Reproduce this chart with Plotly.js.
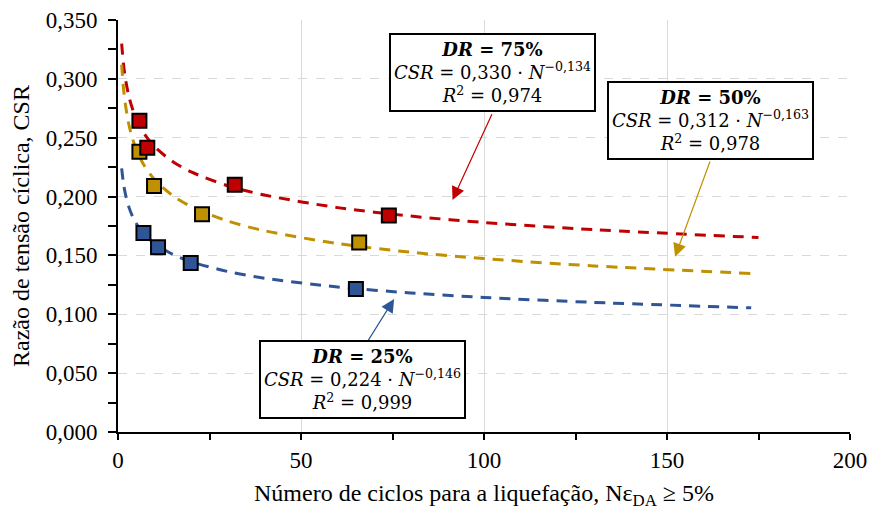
<!DOCTYPE html>
<html>
<head>
<meta charset="utf-8">
<script src="https://cdn.plot.ly/plotly-3.0.1.min.js"></script>
<style>
  html, body { margin: 0; padding: 0; background: #ffffff; }
  #chart { width: 872px; height: 513px; }
</style>
</head>
<body>
<div id="chart"></div>
<script>
// Measured points (N cycles, CSR)
const n75 = [5.85, 8.0, 31.9, 74.0];
const csr75 = [0.2645, 0.2415, 0.210, 0.184];
const n50 = [5.85, 9.85, 22.96, 65.9];
const csr50 = [0.238, 0.209, 0.185, 0.161];
const n25 = [6.95, 10.94, 19.87, 65.0];
const csr25 = [0.169, 0.157, 0.1436, 0.1215];

// Power-law trend lines as drawn
const trendN75 = [1, 1.5, 2, 3, 4, 5, 7, 10, 15, 20, 30, 40, 60, 80, 100, 130, 175];
const trend75 = [0.330, 0.3125, 0.3007, 0.2848, 0.2741, 0.2660, 0.2542, 0.2424, 0.2296, 0.2209, 0.2092, 0.2013, 0.1906, 0.1834, 0.1780, 0.1719, 0.1652];
const trendN = [1, 1.5, 2, 3, 4, 5, 7, 10, 15, 20, 30, 40, 60, 80, 100, 130, 173];
const trend50 = [0.312, 0.2920, 0.2787, 0.2608, 0.2489, 0.2400, 0.2272, 0.2144, 0.2007, 0.1915, 0.1792, 0.1710, 0.1601, 0.1527, 0.1473, 0.1411, 0.1347];
const trend25 = [0.224, 0.2111, 0.2025, 0.1908, 0.1830, 0.1771, 0.1686, 0.1601, 0.1508, 0.1446, 0.1363, 0.1307, 0.1232, 0.1181, 0.1143, 0.1101, 0.1055];

// Annotation texts
const label75 = ['<b><i>DR</i> = 75%</b>', '<i>CSR</i> = 0,330 · <i>N</i><sup>−0,134</sup>', '<i>R</i><sup>2</sup> = 0,974'];
const label50 = ['<b><i>DR</i> = 50%</b>', '<i>CSR</i> = 0,312 · <i>N</i><sup>−0,163</sup>', '<i>R</i><sup>2</sup> = 0,978'];
const label25 = ['<b><i>DR</i> = 25%</b>', '<i>CSR</i> = 0,224 · <i>N</i><sup>−0,146</sup>', '<i>R</i><sup>2</sup> = 0,999'];

const cRed = '#C00000', cGold = '#BF9000', cBlue = '#2F5597';
const serif = 'Liberation Serif';

function trend(x, y, color) {
  return { x: x, y: y, type: 'scatter', mode: 'lines',
    line: { color: color, width: 3, dash: '11px,8px', shape: 'spline', smoothing: 0.8 },
    hoverinfo: 'skip', showlegend: false };
}
function pts(x, y, color) {
  return { x: x, y: y, type: 'scatter', mode: 'markers',
    marker: { symbol: 'square', size: 14, color: color, line: { color: '#000000', width: 2 } },
    hoverinfo: 'skip', showlegend: false };
}

const data = [
  trend(trendN75, trend75, cRed),
  trend(trendN, trend50, cGold),
  trend(trendN, trend25, cBlue),
  pts(n25, csr25, cBlue),
  pts(n50, csr50, cGold),
  pts(n75, csr75, cRed)
];

const mathFont = { family: 'DejaVu Serif', size: 18, color: '#000000' };

function box(lines, x, y) {
  return { x: x, y: y, xref: 'x', yref: 'y', text: lines.join('<br>'), showarrow: false,
    xanchor: 'center', yanchor: 'middle', align: 'center', font: mathFont,
    bgcolor: '#ffffff', bordercolor: '#000000', borderwidth: 2, borderpad: 1,
    width: 201, height: 73 };
}
function arrow(tx, ty, hx, hy, color) {
  return { x: hx, y: hy, ax: tx, ay: ty, xref: 'x', yref: 'y', axref: 'x', ayref: 'y',
    text: '', showarrow: true, arrowhead: 2, arrowsize: 2.2, arrowwidth: 1.2,
    arrowcolor: color, standoff: 0, startstandoff: 0 };
}

const layout = {
  width: 872, height: 513,
  margin: { l: 118, r: 22, t: 20, b: 81 },
  paper_bgcolor: '#ffffff', plot_bgcolor: '#ffffff',
  separators: ', ',
  showlegend: false,
  font: { family: serif, size: 20, color: '#000000' },
  xaxis: {
    range: [0, 200], dtick: 50, tick0: 0,
    showline: true, linecolor: '#000000', linewidth: 2,
    ticks: 'outside', ticklen: 6, tickwidth: 2, tickcolor: '#000000',
    minor: { dtick: 25, ticks: 'outside', ticklen: 6, tickwidth: 2, tickcolor: '#000000', showgrid: false },
    showgrid: true, gridcolor: '#d9d9d9', gridwidth: 1, griddash: 'solid',
    zeroline: false, ticklabelstandoff: 0,
    tickfont: { family: serif, size: 23, color: '#000000' },
    title: { text: 'Número de ciclos para a liquefação, Nε<sub>DA</sub> ≥ 5%',
      font: { family: serif, size: 24, color: '#000000' }, standoff: 13 }
  },
  yaxis: {
    range: [0, 0.35], dtick: 0.05, tick0: 0, tickformat: '.3f',
    showline: true, linecolor: '#000000', linewidth: 2,
    ticks: 'outside', ticklen: 8, tickwidth: 2, tickcolor: '#000000',
    minor: { dtick: 0.025, ticks: 'outside', ticklen: 8, tickwidth: 2, tickcolor: '#000000', showgrid: false },
    showgrid: true, gridcolor: '#d9d9d9', gridwidth: 1, griddash: 'dash',
    zeroline: false, ticklabelstandoff: 6,
    tickfont: { family: serif, size: 23, color: '#000000' },
    title: { text: 'Razão de tensão cíclica, CSR',
      font: { family: serif, size: 24, color: '#000000' }, standoff: 9 }
  },
  annotations: [
    arrow(102.35, 0.2713, 91.4, 0.1971, cRed),
    arrow(161.9, 0.2311, 152.2, 0.1489, cGold),
    arrow(67.0, 0.0711, 75.45, 0.113, cBlue),
    box(label75, 102.3, 0.3052),
    box(label50, 162.0, 0.2646),
    box(label25, 66.9, 0.0442)
  ]
};

Plotly.newPlot('chart', data, layout, { staticPlot: true, displayModeBar: false });
</script>
</body>
</html>
